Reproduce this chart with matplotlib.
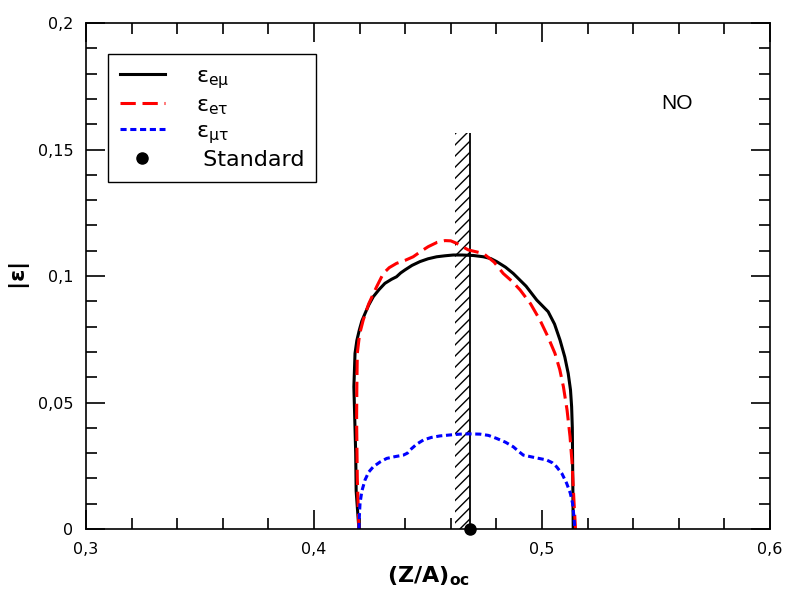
import numpy as np
import matplotlib.pyplot as plt
from matplotlib.ticker import MultipleLocator, FuncFormatter

# curves
x_em = [0.4197, 0.4185, 0.4183, 0.4175, 0.4180, 0.4188, 0.4199, 0.4210, 0.4224,
        0.4240, 0.4260, 0.4285, 0.4311, 0.4340, 0.4362, 0.4380, 0.4399, 0.4430,
        0.4465, 0.4500, 0.4538, 0.4575, 0.4611, 0.4650, 0.4700, 0.4743, 0.4775,
        0.4801, 0.4840, 0.4874, 0.4930, 0.4977, 0.5027, 0.5055, 0.5079, 0.5100,
        0.5115, 0.5125, 0.5130, 0.5133, 0.5135, 0.5137]
y_em = [0.0, 0.0150, 0.0299, 0.0562, 0.0694, 0.0745, 0.0787, 0.0822, 0.0852,
        0.0885, 0.0918, 0.0946, 0.0971, 0.0987, 0.0997, 0.1012, 0.1024, 0.1042,
        0.1057, 0.1068, 0.1076, 0.1080, 0.1083, 0.1083, 0.1081, 0.1076, 0.1069,
        0.1057, 0.1035, 0.1010, 0.0960, 0.0905, 0.0859, 0.0810, 0.0747, 0.0680,
        0.0615, 0.0550, 0.0483, 0.0400, 0.0200, 0.0]

x_et = [0.4197, 0.4190, 0.4187, 0.4188, 0.4190, 0.4200, 0.4216, 0.4240, 0.4275,
        0.4304, 0.4330, 0.4362, 0.4400, 0.4435, 0.4470, 0.4501, 0.4540, 0.4575,
        0.4600, 0.4626, 0.4677, 0.4743, 0.4790, 0.4830, 0.4870, 0.4904, 0.4950,
        0.4991, 0.5025, 0.5057, 0.5078, 0.5094, 0.5110, 0.5123, 0.5132, 0.5137,
        0.5142, 0.5147]
y_et = [0.0, 0.0200, 0.0431, 0.0560, 0.0694, 0.0770, 0.0826, 0.0890, 0.0958,
        0.1010, 0.1033, 0.1050, 0.1062, 0.1076, 0.1098, 0.1116, 0.1133, 0.1140,
        0.1139, 0.1129, 0.1103, 0.1089, 0.1055, 0.1010, 0.0978, 0.0945, 0.0890,
        0.0826, 0.0762, 0.0694, 0.0630, 0.0562, 0.0470, 0.0365, 0.0260, 0.0167,
        0.0080, 0.0]

x_mt = [0.4197, 0.4199, 0.4202, 0.4210, 0.4224, 0.4240, 0.4260, 0.4290, 0.4319,
        0.4355, 0.4392, 0.4410, 0.4421, 0.4450, 0.4480, 0.4515, 0.4553, 0.4600,
        0.4640, 0.4680, 0.4728, 0.4765, 0.4801, 0.4840, 0.4874, 0.4900, 0.4918,
        0.4970, 0.5020, 0.5045, 0.5064, 0.5088, 0.5108, 0.5124, 0.5134, 0.5140,
        0.5144]
y_mt = [0.0, 0.0050, 0.0102, 0.0150, 0.0194, 0.0225, 0.0246, 0.0265, 0.0279,
        0.0286, 0.0292, 0.0300, 0.0312, 0.0335, 0.0352, 0.0362, 0.0368, 0.0372,
        0.0375, 0.0376, 0.0375, 0.0370, 0.0358, 0.0343, 0.0325, 0.0305, 0.0292,
        0.0282, 0.0273, 0.0262, 0.0246, 0.0218, 0.0181, 0.0142, 0.0102, 0.0050,
        0.0]

band_lo, band_hi, band_top = 0.4618, 0.4684, 0.1565
za_standard = 0.4684

fig = plt.figure(figsize=(7.93, 6.01), dpi=100)
ax = fig.add_axes([0.1084, 0.1198, 0.8626, 0.8419])

ax.fill_between([band_lo, band_hi], 0, band_top, facecolor='none',
                edgecolor='black', linewidth=0, hatch='///')
ax.vlines(band_hi, 0, band_top, color='black', lw=1.3)

ax.plot(x_em, y_em, color='black', lw=2.2, label=r'$\mathregular{\epsilon_{e\mu}}$')
ax.plot(x_et, y_et, color='red', lw=2.2, ls=(0, (5, 2.2)), label=r'$\mathregular{\epsilon_{e\tau}}$')
ax.plot(x_mt, y_mt, color='blue', lw=2.2, ls=(0, (2, 1.2)), label=r'$\mathregular{\epsilon_{\mu\tau}}$')
ax.plot([za_standard], [0], 'o', color='black', ms=8, clip_on=False, label=' Standard')

ax.set_xlim(0.3, 0.6)
ax.set_ylim(0, 0.2)
ax.xaxis.set_major_locator(MultipleLocator(0.1))
ax.xaxis.set_minor_locator(MultipleLocator(0.02))
ax.yaxis.set_major_locator(MultipleLocator(0.05))
ax.yaxis.set_minor_locator(MultipleLocator(0.01))
comma = FuncFormatter(lambda v, p: ('%g' % round(v, 4)).replace('.', ','))
ax.xaxis.set_major_formatter(comma)
ax.yaxis.set_major_formatter(comma)
ax.tick_params(which='both', direction='in', top=True, right=True, labelsize=11.5, width=1.2)
ax.tick_params(which='major', length=14, pad=9)
ax.tick_params(which='minor', length=8)
for s in ax.spines.values():
    s.set_linewidth(1.2)

ax.set_xlabel(r'$\mathbf{(Z/A)_{oc}}$', fontsize=16, labelpad=6)
ax.set_ylabel(r'$\mathbf{|\epsilon|}$', fontsize=16, labelpad=4)

ax.text(0.5592, 0.168, 'NO', fontsize=15, family='Liberation Sans', ha='center', va='center')

leg = ax.legend(loc='upper left', bbox_to_anchor=(0.032, 0.939), borderaxespad=0,
                fontsize=16, fancybox=False, framealpha=1, edgecolor='black',
                handlelength=2.0, borderpad=0.55, labelspacing=0.2, handletextpad=1.4)
leg.get_frame().set_linewidth(1.0)

fig.savefig('out.png', dpi=100)
